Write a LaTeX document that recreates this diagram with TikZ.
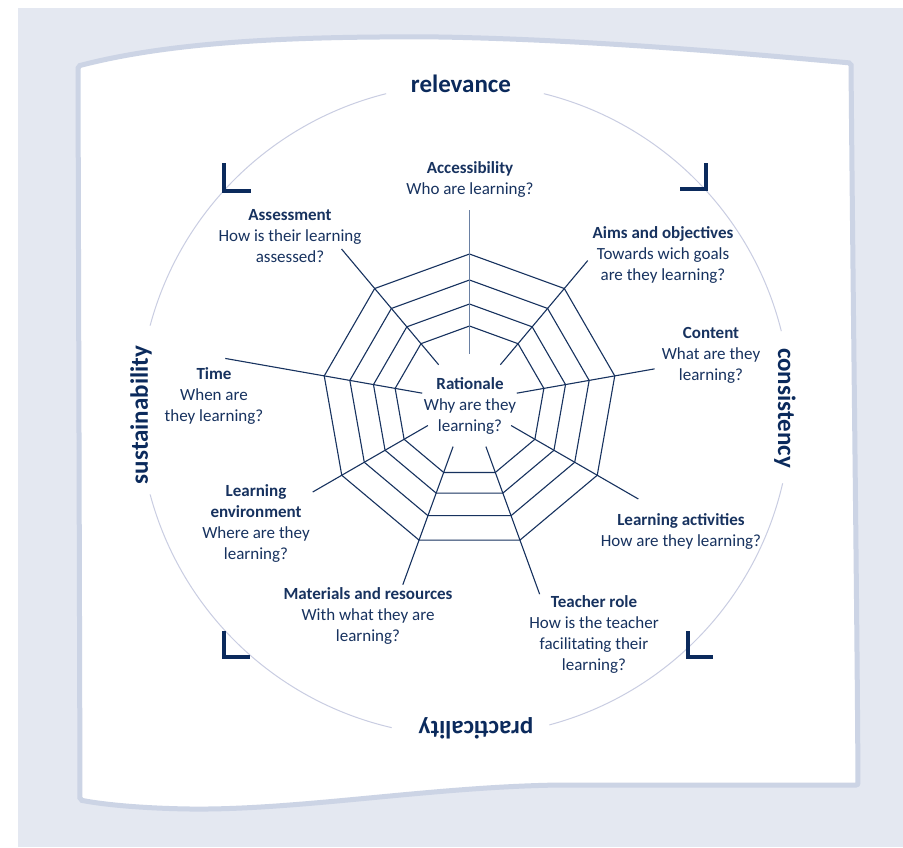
\documentclass[tikz,border=0pt]{standalone}
\usepackage{fontspec}
\setmainfont{Carlito}
\newfontfamily\handfont{Carlito}
\definecolor{bgblue}{HTML}{E4E8F1}
\definecolor{paperedge}{HTML}{CCD4E5}
\definecolor{ringgrey}{HTML}{C9CDE2}
\definecolor{navy}{HTML}{17325F}
\definecolor{darknavy}{HTML}{0B2A5C}
\definecolor{spokegrey}{HTML}{6A80A3}
\tikzset{
  web/.style={draw=navy, line width=1.1pt, line join=miter},
  lbl/.style={align=center, text=navy, inner sep=0pt,
    font=\fontsize{17}{21}\selectfont},
  quality/.style={text=darknavy, inner sep=0pt,
    font=\handfont\bfseries\fontsize{25}{25}\selectfont},
  corner/.style={draw=darknavy, line width=4pt, line join=miter},
}
\begin{document}
\begin{tikzpicture}[x=1pt,y=-1pt]
\useasboundingbox (0,0) rectangle (903,847);
% background and sheet
\fill[bgblue] (18,8) rectangle (903,847);
\filldraw[
  fill=white,
  draw=paperedge,
  line width=5pt,
  rounded corners=2pt
  ]
  (78,66) .. controls (170,42) and (290,36) .. (440,37)
  .. controls (600,40) and (760,55) .. (851,63)
  .. controls (853,300) and (857,600) .. (858,785)
  -- (560,785) .. controls (430,787) and (300,810) .. (190,809)
  .. controls (130,808) and (95,803) .. (80,800) -- cycle;

% outer circle with gaps
\begin{scope}[shift={(465,410)}]
\draw[ringgrey, line width=1pt] (-76:326) arc (-76:-14:326);
\draw[ringgrey, line width=1pt] (13:326) arc (13:75:326);
\draw[ringgrey, line width=1pt] (103:326) arc (103:165:326);
\draw[ringgrey, line width=1pt] (195:326) arc (195:256:326);
\end{scope}

% corner marks
\draw[corner] (224,163) -- (224,191) -- (251,191);
\draw[corner] (706,163) -- (706,189) -- (680,189);
\draw[corner] (688,631) -- (688,657) -- (713,657);
\draw[corner] (224,631) -- (224,657) -- (250,657);

% quality criteria
\node[quality] (relevance) at (461,84) {relevance};
\node[quality, rotate=-90] (consistency) at (785,408) {consistency};
\node[quality, rotate=180] (practicality) at (476,728) {practicality};
\node[quality, rotate=90] (sustainability) at (141,415) {sustainability};

% spider web
\coordinate (ctr) at (469.5,401.5);
\begin{scope}[shift={(ctr)}]
\foreach \r in {75.5,97.5,121.5,147.5}
  \draw[web] (-90:\r) \foreach \a in {-50,-10,...,230}{ -- (\a:\r)} -- cycle;
\foreach \a/\len [count=\i] in {-90/192,-50/184,-10/188,30/195,70/205,110/195,150/181,190/248,230/199}{
  \coordinate (s\i-in) at (\a:48);
  \coordinate (s\i-out) at (\a:\len);
}
\end{scope}
\draw[spokegrey, line width=1.8pt] (s1-in) -- (s1-out);
\foreach \i in {2,...,9}
  \draw[web] (s\i-in) -- (s\i-out);

% curriculum components
\node[lbl] (rationale) at (470,406) {\textbf{Rationale}\\Why are they\\learning?};
\node[lbl] (access) at (470,179) {\textbf{Accessibility}\\Who are learning?};
\node[lbl] (aims) at (663,255) {\textbf{Aims and objectives}\\Towards wich goals\\are they learning?};
\node[lbl] (content) at (711,355) {\textbf{Content}\\What are they\\learning?};
\node[lbl] (activities) at (681,531.5) {\textbf{Learning activities}\\How are they learning?};
\node[lbl] (teacher) at (594,634.5) {\textbf{Teacher role}\\How is the teacher\\facilitating their\\learning?};
\node[lbl] (materials) at (368,616) {\textbf{Materials and resources}\\With what they are\\learning?};
\node[lbl] (environment) at (256,523.5) {\textbf{Learning}\\\textbf{environment}\\Where are they\\learning?};
\node[lbl] (time) at (214,396) {\textbf{Time}\\When are\\they learning?};
\node[lbl] (assessment) at (290,236) {\textbf{Assessment}\\How is their learning\\assessed?};
\end{tikzpicture}
\end{document}
